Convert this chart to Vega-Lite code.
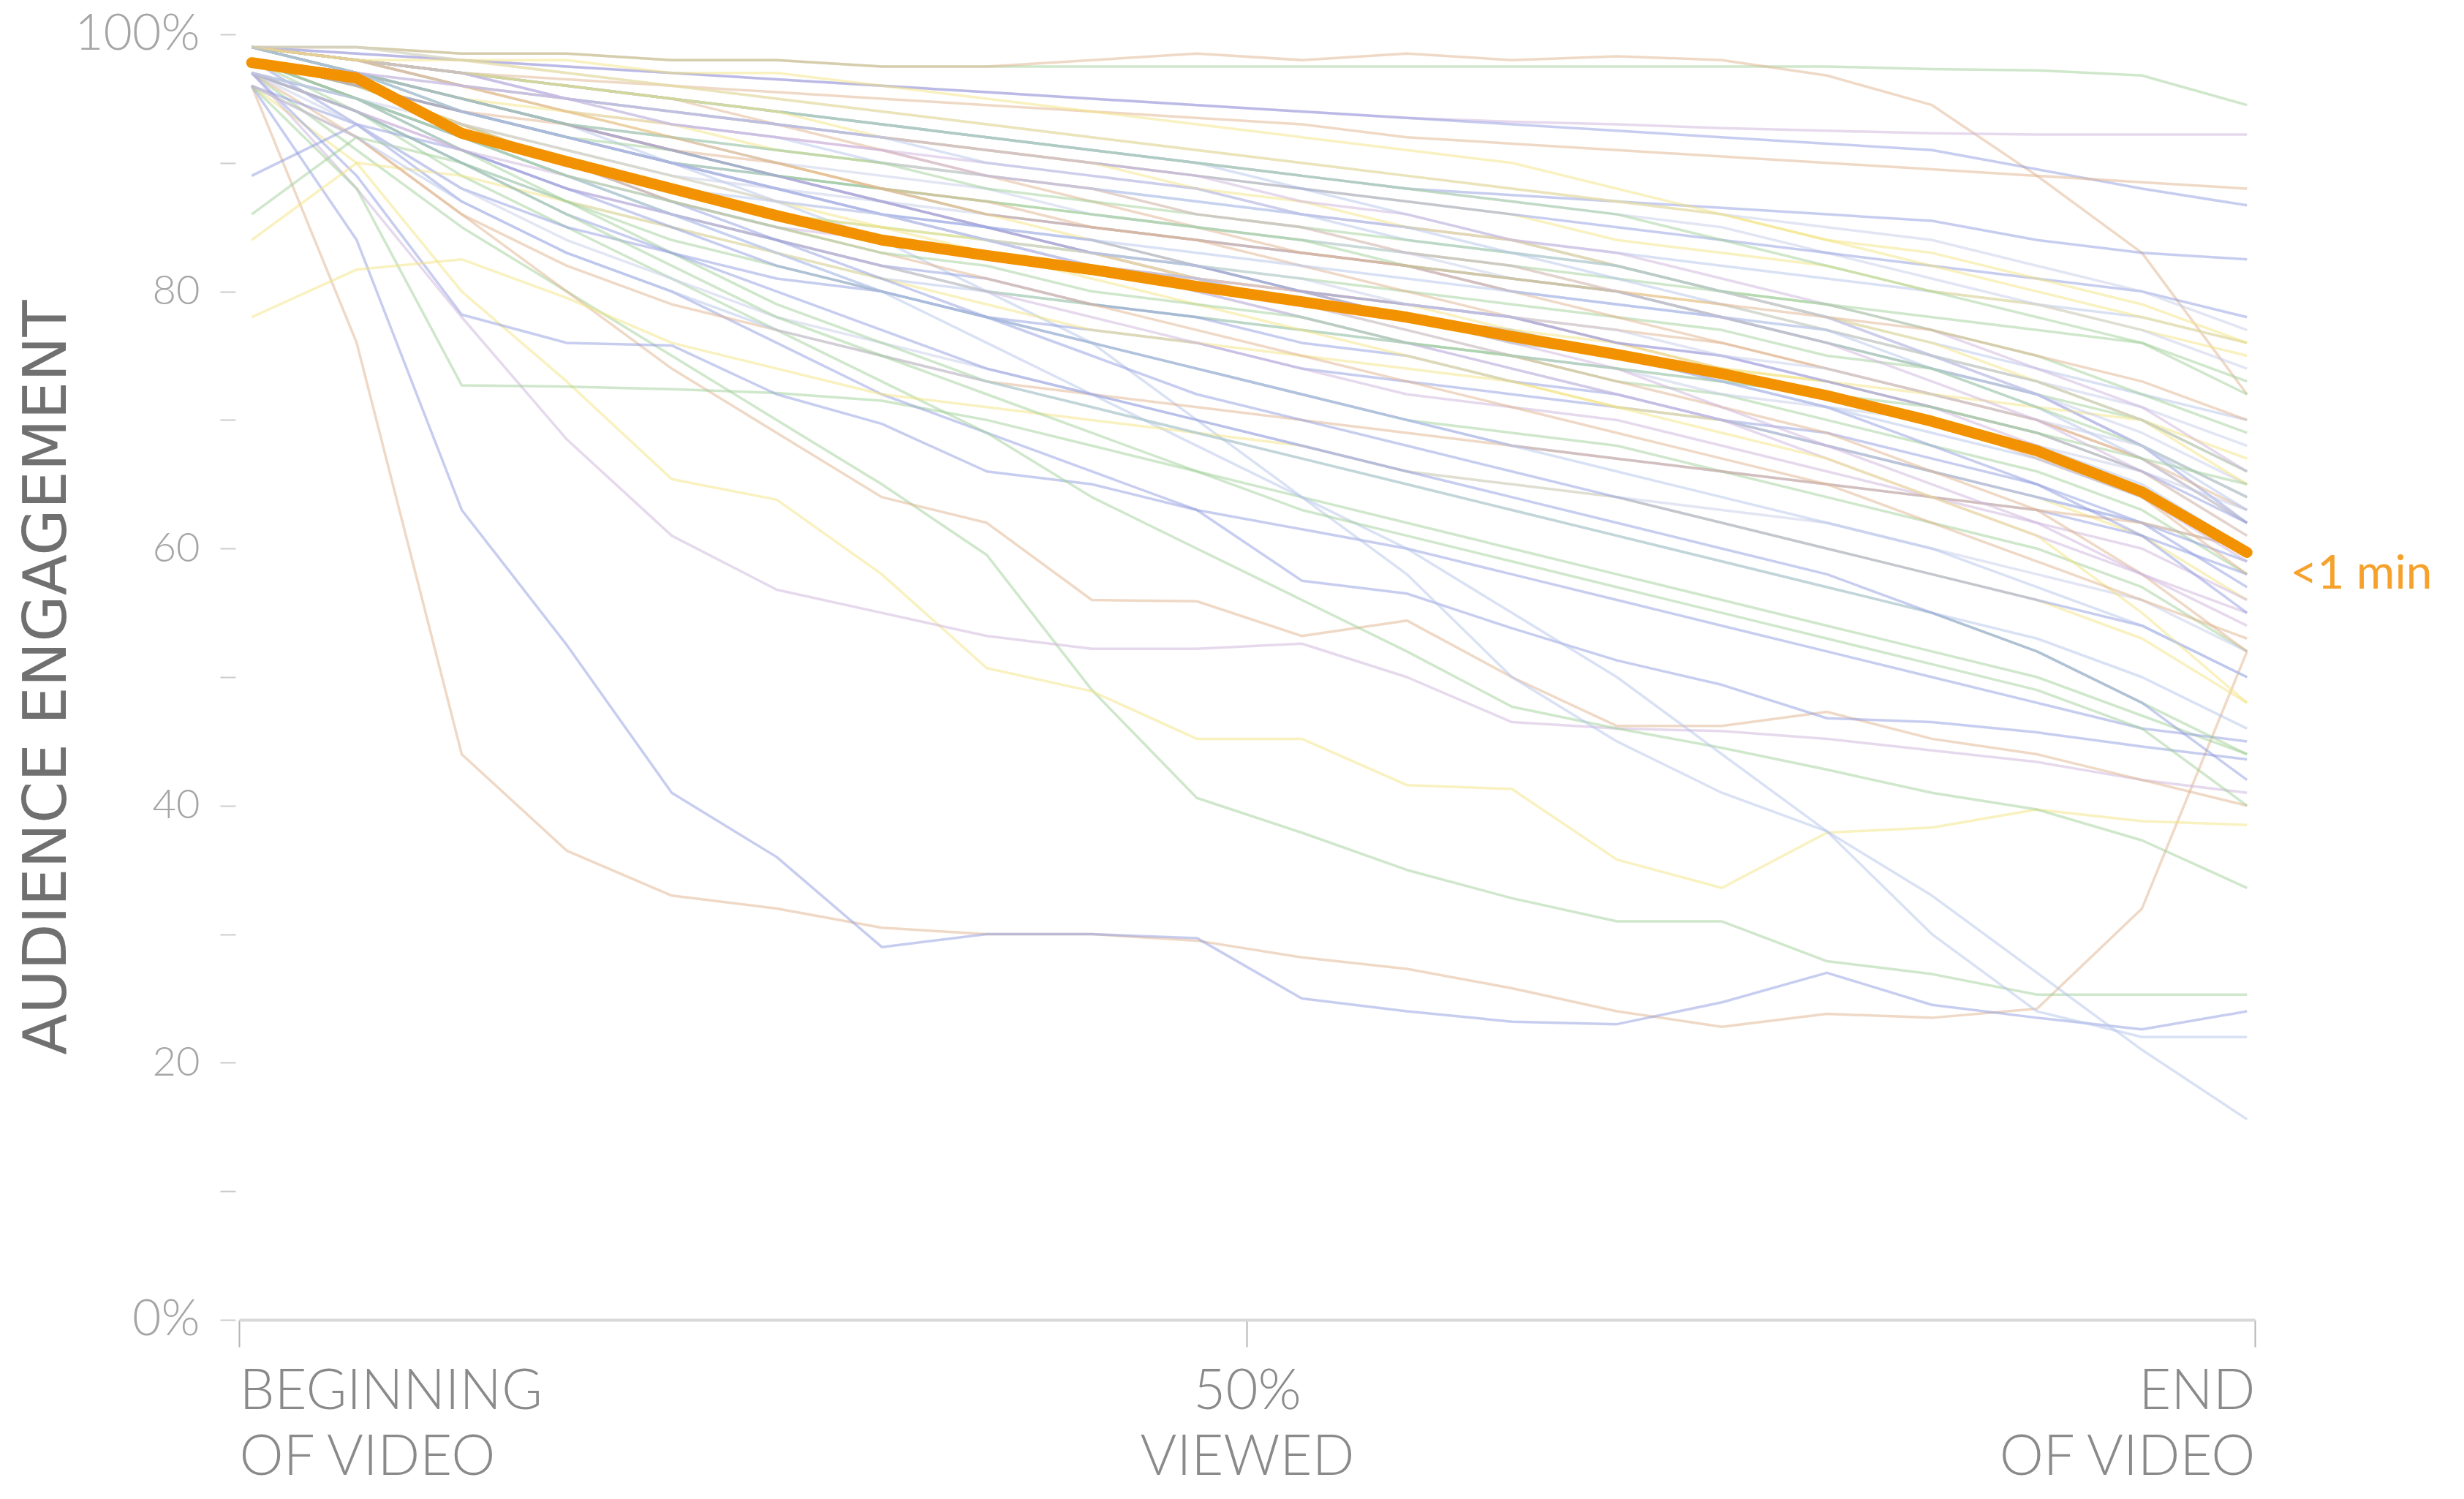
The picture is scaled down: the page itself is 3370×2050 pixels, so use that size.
{"$schema":"https://vega.github.io/schema/vega-lite/v6.json","width":2757,"height":1758,"autosize":"none","padding":{"left":327,"top":47,"right":286,"bottom":245},"background":"white","config":{"view":{"stroke":null}},
"datasets":{"colors":[{"s":"s1","c":"t"},{"s":"s2","c":"b"},{"s":"s3","c":"g"},{"s":"s4","c":"y"},{"s":"s5","c":"p"},{"s":"s6","c":"t"},{"s":"s7","c":"g"},{"s":"s8","c":"b"},{"s":"s9","c":"b"},{"s":"s10","c":"g"},{"s":"s11","c":"lb"},{"s":"s12","c":"lb"},{"s":"s13","c":"g"},{"s":"s14","c":"t"},{"s":"s15","c":"p"},{"s":"s16","c":"b"},{"s":"s17","c":"b"},{"s":"s18","c":"t"},{"s":"d1","c":"lb"},{"s":"d2","c":"y"},{"s":"d3","c":"v"},{"s":"d4","c":"g"},{"s":"d5","c":"b"},{"s":"d6","c":"t"},{"s":"d7","c":"p"},{"s":"d8","c":"lb"},{"s":"d9","c":"y"},{"s":"d10","c":"g"},{"s":"d11","c":"b"},{"s":"d12","c":"v"},{"s":"d13","c":"t"},{"s":"d14","c":"y"},{"s":"d15","c":"y"},{"s":"d16","c":"g"},{"s":"d17","c":"b"},{"s":"d18","c":"lb"},{"s":"d19","c":"p"},{"s":"d20","c":"b"},{"s":"d21","c":"g"},{"s":"d22","c":"t"},{"s":"d23","c":"lb"},{"s":"d24","c":"y"},{"s":"d25","c":"v"},{"s":"d26","c":"b"},{"s":"d27","c":"g"},{"s":"d28","c":"t"},{"s":"d29","c":"p"},{"s":"d30","c":"lb"},{"s":"d31","c":"y"},{"s":"d32","c":"b"},{"s":"d33","c":"g"},{"s":"d34","c":"lb"},{"s":"d35","c":"t"},{"s":"d36","c":"v"},{"s":"d37","c":"y"},{"s":"d38","c":"b"},{"s":"d39","c":"p"},{"s":"d40","c":"g"},{"s":"e1","c":"lb"},{"s":"e2","c":"v"},{"s":"e3","c":"y"},{"s":"e4","c":"g"},{"s":"e5","c":"p"},{"s":"e6","c":"t"},{"s":"e7","c":"b"},{"s":"e8","c":"lb"},{"s":"e9","c":"v"},{"s":"e10","c":"y"},{"s":"e11","c":"g"},{"s":"e12","c":"p"},{"s":"e13","c":"t"},{"s":"e14","c":"lb"},{"s":"e15","c":"b"},{"s":"e16","c":"v"},{"s":"e17","c":"y"},{"s":"e18","c":"g"},{"s":"e19","c":"lb"},{"s":"e20","c":"p"}],
"lines":[
{"s":"avg","t":0,"y":97.8},{"s":"avg","t":1,"y":96.6},{"s":"avg","t":2,"y":92.3},{"s":"avg","t":3,"y":90.1},{"s":"avg","t":4,"y":88.0},{"s":"avg","t":5,"y":85.9},{"s":"avg","t":6,"y":84.0},{"s":"avg","t":7,"y":82.8},{"s":"avg","t":8,"y":81.7},{"s":"avg","t":9,"y":80.4},{"s":"avg","t":10,"y":79.2},{"s":"avg","t":11,"y":78.0},{"s":"avg","t":12,"y":76.5},{"s":"avg","t":13,"y":75.1},{"s":"avg","t":14,"y":73.6},{"s":"avg","t":15,"y":71.9},{"s":"avg","t":16,"y":69.9},{"s":"avg","t":17,"y":67.6},{"s":"avg","t":18,"y":64.4},{"s":"avg","t":19,"y":59.7},
{"s":"s1","t":0,"y":96},{"s":"s1","t":1,"y":76},{"s":"s1","t":2,"y":44},{"s":"s1","t":3,"y":36.5},{"s":"s1","t":4,"y":33},{"s":"s1","t":5,"y":32},{"s":"s1","t":6,"y":30.5},{"s":"s1","t":7,"y":30},{"s":"s1","t":8,"y":30},{"s":"s1","t":9,"y":29.5},{"s":"s1","t":10,"y":28.2},{"s":"s1","t":11,"y":27.3},{"s":"s1","t":12,"y":25.8},{"s":"s1","t":13,"y":24},{"s":"s1","t":14,"y":22.8},{"s":"s1","t":15,"y":23.8},{"s":"s1","t":16,"y":23.5},{"s":"s1","t":17,"y":24.2},{"s":"s1","t":18,"y":32},{"s":"s1","t":19,"y":52},
{"s":"s2","t":0,"y":96},{"s":"s2","t":1,"y":84},{"s":"s2","t":2,"y":63},{"s":"s2","t":3,"y":52.5},{"s":"s2","t":4,"y":41},{"s":"s2","t":5,"y":36},{"s":"s2","t":6,"y":29},{"s":"s2","t":7,"y":30},{"s":"s2","t":8,"y":30},{"s":"s2","t":9,"y":29.7},{"s":"s2","t":10,"y":25},{"s":"s2","t":11,"y":24},{"s":"s2","t":12,"y":23.2},{"s":"s2","t":13,"y":23},{"s":"s2","t":14,"y":24.7},{"s":"s2","t":15,"y":27},{"s":"s2","t":16,"y":24.5},{"s":"s2","t":17,"y":23.5},{"s":"s2","t":18,"y":22.6},{"s":"s2","t":19,"y":24},
{"s":"s3","t":0,"y":97},{"s":"s3","t":1,"y":91},{"s":"s3","t":2,"y":85},{"s":"s3","t":3,"y":80},{"s":"s3","t":4,"y":75},{"s":"s3","t":5,"y":70},{"s":"s3","t":6,"y":65},{"s":"s3","t":7,"y":59.5},{"s":"s3","t":8,"y":49},{"s":"s3","t":9,"y":40.6},{"s":"s3","t":10,"y":37.9},{"s":"s3","t":11,"y":35},{"s":"s3","t":12,"y":32.8},{"s":"s3","t":13,"y":31},{"s":"s3","t":14,"y":31},{"s":"s3","t":15,"y":27.9},{"s":"s3","t":16,"y":26.9},{"s":"s3","t":17,"y":25.3},{"s":"s3","t":18,"y":25.3},{"s":"s3","t":19,"y":25.3},
{"s":"s4","t":0,"y":96},{"s":"s4","t":1,"y":90},{"s":"s4","t":2,"y":80},{"s":"s4","t":3,"y":73},{"s":"s4","t":4,"y":65.4},{"s":"s4","t":5,"y":63.8},{"s":"s4","t":6,"y":58},{"s":"s4","t":7,"y":50.7},{"s":"s4","t":8,"y":48.9},{"s":"s4","t":9,"y":45.2},{"s":"s4","t":10,"y":45.2},{"s":"s4","t":11,"y":41.6},{"s":"s4","t":12,"y":41.3},{"s":"s4","t":13,"y":35.8},{"s":"s4","t":14,"y":33.6},{"s":"s4","t":15,"y":37.9},{"s":"s4","t":16,"y":38.3},{"s":"s4","t":17,"y":39.7},{"s":"s4","t":18,"y":38.8},{"s":"s4","t":19,"y":38.5},
{"s":"s5","t":0,"y":97},{"s":"s5","t":1,"y":88},{"s":"s5","t":2,"y":78},{"s":"s5","t":3,"y":68.5},{"s":"s5","t":4,"y":61},{"s":"s5","t":5,"y":56.8},{"s":"s5","t":6,"y":55},{"s":"s5","t":7,"y":53.2},{"s":"s5","t":8,"y":52.2},{"s":"s5","t":9,"y":52.2},{"s":"s5","t":10,"y":52.6},{"s":"s5","t":11,"y":50},{"s":"s5","t":12,"y":46.5},{"s":"s5","t":13,"y":46},{"s":"s5","t":14,"y":45.8},{"s":"s5","t":15,"y":45.2},{"s":"s5","t":16,"y":44.3},{"s":"s5","t":17,"y":43.4},{"s":"s5","t":18,"y":42},{"s":"s5","t":19,"y":41},
{"s":"s6","t":0,"y":97},{"s":"s6","t":1,"y":92},{"s":"s6","t":2,"y":86},{"s":"s6","t":3,"y":80},{"s":"s6","t":4,"y":74},{"s":"s6","t":5,"y":69},{"s":"s6","t":6,"y":64},{"s":"s6","t":7,"y":62},{"s":"s6","t":8,"y":56},{"s":"s6","t":9,"y":55.9},{"s":"s6","t":10,"y":53.2},{"s":"s6","t":11,"y":54.4},{"s":"s6","t":12,"y":50},{"s":"s6","t":13,"y":46.2},{"s":"s6","t":14,"y":46.2},{"s":"s6","t":15,"y":47.3},{"s":"s6","t":16,"y":45.2},{"s":"s6","t":17,"y":44},{"s":"s6","t":18,"y":42},{"s":"s6","t":19,"y":40},
{"s":"s7","t":0,"y":96},{"s":"s7","t":1,"y":88},{"s":"s7","t":2,"y":72.7},{"s":"s7","t":3,"y":72.6},{"s":"s7","t":4,"y":72.4},{"s":"s7","t":5,"y":72.1},{"s":"s7","t":6,"y":71.5},{"s":"s7","t":7,"y":70},{"s":"s7","t":8,"y":68},{"s":"s7","t":9,"y":66},{"s":"s7","t":10,"y":64},{"s":"s7","t":11,"y":62},{"s":"s7","t":12,"y":60},{"s":"s7","t":13,"y":58},{"s":"s7","t":14,"y":56},{"s":"s7","t":15,"y":54},{"s":"s7","t":16,"y":52},{"s":"s7","t":17,"y":50},{"s":"s7","t":18,"y":47},{"s":"s7","t":19,"y":44},
{"s":"s8","t":0,"y":97},{"s":"s8","t":1,"y":89},{"s":"s8","t":2,"y":78.2},{"s":"s8","t":3,"y":76},{"s":"s8","t":4,"y":75.8},{"s":"s8","t":5,"y":72},{"s":"s8","t":6,"y":69.7},{"s":"s8","t":7,"y":66},{"s":"s8","t":8,"y":65},{"s":"s8","t":9,"y":63},{"s":"s8","t":10,"y":61.5},{"s":"s8","t":11,"y":60},{"s":"s8","t":12,"y":58},{"s":"s8","t":13,"y":56},{"s":"s8","t":14,"y":54},{"s":"s8","t":15,"y":52},{"s":"s8","t":16,"y":50},{"s":"s8","t":17,"y":48},{"s":"s8","t":18,"y":46},{"s":"s8","t":19,"y":45},
{"s":"s9","t":0,"y":98},{"s":"s9","t":1,"y":93},{"s":"s9","t":2,"y":87},{"s":"s9","t":3,"y":83},{"s":"s9","t":4,"y":80},{"s":"s9","t":5,"y":76},{"s":"s9","t":6,"y":72},{"s":"s9","t":7,"y":69},{"s":"s9","t":8,"y":66},{"s":"s9","t":9,"y":63},{"s":"s9","t":10,"y":57.5},{"s":"s9","t":11,"y":56.5},{"s":"s9","t":12,"y":53.8},{"s":"s9","t":13,"y":51.3},{"s":"s9","t":14,"y":49.4},{"s":"s9","t":15,"y":46.8},{"s":"s9","t":16,"y":46.5},{"s":"s9","t":17,"y":45.7},{"s":"s9","t":18,"y":44.6},{"s":"s9","t":19,"y":43.6},
{"s":"s10","t":0,"y":98},{"s":"s10","t":1,"y":94},{"s":"s10","t":2,"y":89},{"s":"s10","t":3,"y":85},{"s":"s10","t":4,"y":81},{"s":"s10","t":5,"y":77},{"s":"s10","t":6,"y":73},{"s":"s10","t":7,"y":69},{"s":"s10","t":8,"y":64},{"s":"s10","t":9,"y":60},{"s":"s10","t":10,"y":56},{"s":"s10","t":11,"y":52},{"s":"s10","t":12,"y":47.7},{"s":"s10","t":13,"y":46},{"s":"s10","t":14,"y":44.5},{"s":"s10","t":15,"y":42.8},{"s":"s10","t":16,"y":41},{"s":"s10","t":17,"y":39.7},{"s":"s10","t":18,"y":37.3},{"s":"s10","t":19,"y":33.6},
{"s":"s11","t":0,"y":99},{"s":"s11","t":1,"y":97},{"s":"s11","t":2,"y":95},{"s":"s11","t":3,"y":93},{"s":"s11","t":4,"y":90},{"s":"s11","t":5,"y":87},{"s":"s11","t":6,"y":84},{"s":"s11","t":7,"y":80},{"s":"s11","t":8,"y":76},{"s":"s11","t":9,"y":70},{"s":"s11","t":10,"y":64},{"s":"s11","t":11,"y":58},{"s":"s11","t":12,"y":50},{"s":"s11","t":13,"y":45},{"s":"s11","t":14,"y":41},{"s":"s11","t":15,"y":38},{"s":"s11","t":16,"y":33},{"s":"s11","t":17,"y":27},{"s":"s11","t":18,"y":21},{"s":"s11","t":19,"y":15.6},
{"s":"s12","t":0,"y":98},{"s":"s12","t":1,"y":95},{"s":"s12","t":2,"y":92},{"s":"s12","t":3,"y":89},{"s":"s12","t":4,"y":86},{"s":"s12","t":5,"y":83},{"s":"s12","t":6,"y":80},{"s":"s12","t":7,"y":76},{"s":"s12","t":8,"y":72},{"s":"s12","t":9,"y":68},{"s":"s12","t":10,"y":64},{"s":"s12","t":11,"y":60},{"s":"s12","t":12,"y":55},{"s":"s12","t":13,"y":50},{"s":"s12","t":14,"y":44},{"s":"s12","t":15,"y":38},{"s":"s12","t":16,"y":30},{"s":"s12","t":17,"y":24},{"s":"s12","t":18,"y":22},{"s":"s12","t":19,"y":22},
{"s":"s13","t":0,"y":99},{"s":"s13","t":1,"y":99},{"s":"s13","t":2,"y":98.5},{"s":"s13","t":3,"y":98.5},{"s":"s13","t":4,"y":98},{"s":"s13","t":5,"y":98},{"s":"s13","t":6,"y":97.5},{"s":"s13","t":7,"y":97.5},{"s":"s13","t":8,"y":97.5},{"s":"s13","t":9,"y":97.5},{"s":"s13","t":10,"y":97.5},{"s":"s13","t":11,"y":97.5},{"s":"s13","t":12,"y":97.5},{"s":"s13","t":13,"y":97.5},{"s":"s13","t":14,"y":97.5},{"s":"s13","t":15,"y":97.5},{"s":"s13","t":16,"y":97.3},{"s":"s13","t":17,"y":97.2},{"s":"s13","t":18,"y":96.8},{"s":"s13","t":19,"y":94.5},
{"s":"s14","t":0,"y":99},{"s":"s14","t":1,"y":99},{"s":"s14","t":2,"y":98.5},{"s":"s14","t":3,"y":98.5},{"s":"s14","t":4,"y":98},{"s":"s14","t":5,"y":98},{"s":"s14","t":6,"y":97.5},{"s":"s14","t":7,"y":97.5},{"s":"s14","t":8,"y":98},{"s":"s14","t":9,"y":98.5},{"s":"s14","t":10,"y":98},{"s":"s14","t":11,"y":98.5},{"s":"s14","t":12,"y":98},{"s":"s14","t":13,"y":98.3},{"s":"s14","t":14,"y":98},{"s":"s14","t":15,"y":96.8},{"s":"s14","t":16,"y":94.5},{"s":"s14","t":17,"y":89},{"s":"s14","t":18,"y":83},{"s":"s14","t":19,"y":72},
{"s":"s15","t":0,"y":99},{"s":"s15","t":1,"y":98.5},{"s":"s15","t":2,"y":98},{"s":"s15","t":3,"y":97.5},{"s":"s15","t":4,"y":97},{"s":"s15","t":5,"y":96.5},{"s":"s15","t":6,"y":96},{"s":"s15","t":7,"y":95.5},{"s":"s15","t":8,"y":95},{"s":"s15","t":9,"y":94.5},{"s":"s15","t":10,"y":94},{"s":"s15","t":11,"y":93.5},{"s":"s15","t":12,"y":93.2},{"s":"s15","t":13,"y":93},{"s":"s15","t":14,"y":92.7},{"s":"s15","t":15,"y":92.5},{"s":"s15","t":16,"y":92.3},{"s":"s15","t":17,"y":92.2},{"s":"s15","t":18,"y":92.2},{"s":"s15","t":19,"y":92.2},
{"s":"s16","t":0,"y":99},{"s":"s16","t":1,"y":98.5},{"s":"s16","t":2,"y":98},{"s":"s16","t":3,"y":97.5},{"s":"s16","t":4,"y":97},{"s":"s16","t":5,"y":96.5},{"s":"s16","t":6,"y":96},{"s":"s16","t":7,"y":95.5},{"s":"s16","t":8,"y":95},{"s":"s16","t":9,"y":94.5},{"s":"s16","t":10,"y":94},{"s":"s16","t":11,"y":93.5},{"s":"s16","t":12,"y":93},{"s":"s16","t":13,"y":92.5},{"s":"s16","t":14,"y":92},{"s":"s16","t":15,"y":91.5},{"s":"s16","t":16,"y":91},{"s":"s16","t":17,"y":89.5},{"s":"s16","t":18,"y":88},{"s":"s16","t":19,"y":86.7},
{"s":"s17","t":0,"y":99},{"s":"s17","t":1,"y":98},{"s":"s17","t":2,"y":97},{"s":"s17","t":3,"y":96},{"s":"s17","t":4,"y":95},{"s":"s17","t":5,"y":94},{"s":"s17","t":6,"y":93},{"s":"s17","t":7,"y":92},{"s":"s17","t":8,"y":91},{"s":"s17","t":9,"y":90},{"s":"s17","t":10,"y":89},{"s":"s17","t":11,"y":88},{"s":"s17","t":12,"y":87.5},{"s":"s17","t":13,"y":87},{"s":"s17","t":14,"y":86.5},{"s":"s17","t":15,"y":86},{"s":"s17","t":16,"y":85.5},{"s":"s17","t":17,"y":84},{"s":"s17","t":18,"y":83},{"s":"s17","t":19,"y":82.5},
{"s":"s18","t":0,"y":99},{"s":"s18","t":1,"y":98},{"s":"s18","t":2,"y":97},{"s":"s18","t":3,"y":96.5},{"s":"s18","t":4,"y":96},{"s":"s18","t":5,"y":95.5},{"s":"s18","t":6,"y":95},{"s":"s18","t":7,"y":94.5},{"s":"s18","t":8,"y":94},{"s":"s18","t":9,"y":93.5},{"s":"s18","t":10,"y":93},{"s":"s18","t":11,"y":92},{"s":"s18","t":12,"y":91.5},{"s":"s18","t":13,"y":91},{"s":"s18","t":14,"y":90.5},{"s":"s18","t":15,"y":90},{"s":"s18","t":16,"y":89.5},{"s":"s18","t":17,"y":89},{"s":"s18","t":18,"y":88.5},{"s":"s18","t":19,"y":88},
{"s":"d1","t":0,"y":99},{"s":"d1","t":1,"y":97},{"s":"d1","t":2,"y":95},{"s":"d1","t":3,"y":93},{"s":"d1","t":4,"y":92},{"s":"d1","t":5,"y":91},{"s":"d1","t":6,"y":90},{"s":"d1","t":7,"y":89},{"s":"d1","t":8,"y":88},{"s":"d1","t":9,"y":87},{"s":"d1","t":10,"y":86},{"s":"d1","t":11,"y":85},{"s":"d1","t":12,"y":84},{"s":"d1","t":13,"y":83},{"s":"d1","t":14,"y":82},{"s":"d1","t":15,"y":81},{"s":"d1","t":16,"y":80},{"s":"d1","t":17,"y":79},{"s":"d1","t":18,"y":78},{"s":"d1","t":19,"y":76},
{"s":"d2","t":0,"y":99},{"s":"d2","t":1,"y":98},{"s":"d2","t":2,"y":96},{"s":"d2","t":3,"y":95},{"s":"d2","t":4,"y":94},{"s":"d2","t":5,"y":93},{"s":"d2","t":6,"y":92},{"s":"d2","t":7,"y":91},{"s":"d2","t":8,"y":90},{"s":"d2","t":9,"y":89},{"s":"d2","t":10,"y":88},{"s":"d2","t":11,"y":87},{"s":"d2","t":12,"y":86},{"s":"d2","t":13,"y":84},{"s":"d2","t":14,"y":83},{"s":"d2","t":15,"y":82},{"s":"d2","t":16,"y":80},{"s":"d2","t":17,"y":79},{"s":"d2","t":18,"y":77},{"s":"d2","t":19,"y":75},
{"s":"d3","t":0,"y":98},{"s":"d3","t":1,"y":96},{"s":"d3","t":2,"y":93},{"s":"d3","t":3,"y":91},{"s":"d3","t":4,"y":89},{"s":"d3","t":5,"y":88},{"s":"d3","t":6,"y":87},{"s":"d3","t":7,"y":86},{"s":"d3","t":8,"y":85},{"s":"d3","t":9,"y":84},{"s":"d3","t":10,"y":83},{"s":"d3","t":11,"y":82},{"s":"d3","t":12,"y":81},{"s":"d3","t":13,"y":80},{"s":"d3","t":14,"y":78},{"s":"d3","t":15,"y":77},{"s":"d3","t":16,"y":75},{"s":"d3","t":17,"y":73},{"s":"d3","t":18,"y":71},{"s":"d3","t":19,"y":68},
{"s":"d4","t":0,"y":98},{"s":"d4","t":1,"y":96},{"s":"d4","t":2,"y":93},{"s":"d4","t":3,"y":90},{"s":"d4","t":4,"y":88},{"s":"d4","t":5,"y":86},{"s":"d4","t":6,"y":85},{"s":"d4","t":7,"y":84},{"s":"d4","t":8,"y":83},{"s":"d4","t":9,"y":82},{"s":"d4","t":10,"y":81},{"s":"d4","t":11,"y":80},{"s":"d4","t":12,"y":79},{"s":"d4","t":13,"y":78},{"s":"d4","t":14,"y":77},{"s":"d4","t":15,"y":75},{"s":"d4","t":16,"y":74},{"s":"d4","t":17,"y":72},{"s":"d4","t":18,"y":70},{"s":"d4","t":19,"y":66},
{"s":"d5","t":0,"y":99},{"s":"d5","t":1,"y":97},{"s":"d5","t":2,"y":94},{"s":"d5","t":3,"y":92},{"s":"d5","t":4,"y":90},{"s":"d5","t":5,"y":89},{"s":"d5","t":6,"y":88},{"s":"d5","t":7,"y":86},{"s":"d5","t":8,"y":85},{"s":"d5","t":9,"y":84},{"s":"d5","t":10,"y":83},{"s":"d5","t":11,"y":82},{"s":"d5","t":12,"y":80},{"s":"d5","t":13,"y":79},{"s":"d5","t":14,"y":78},{"s":"d5","t":15,"y":76},{"s":"d5","t":16,"y":74},{"s":"d5","t":17,"y":72},{"s":"d5","t":18,"y":68},{"s":"d5","t":19,"y":62},
{"s":"d6","t":0,"y":98},{"s":"d6","t":1,"y":95},{"s":"d6","t":2,"y":92},{"s":"d6","t":3,"y":90},{"s":"d6","t":4,"y":88},{"s":"d6","t":5,"y":86},{"s":"d6","t":6,"y":84},{"s":"d6","t":7,"y":83},{"s":"d6","t":8,"y":82},{"s":"d6","t":9,"y":81},{"s":"d6","t":10,"y":80},{"s":"d6","t":11,"y":79},{"s":"d6","t":12,"y":78},{"s":"d6","t":13,"y":77},{"s":"d6","t":14,"y":76},{"s":"d6","t":15,"y":74},{"s":"d6","t":16,"y":72},{"s":"d6","t":17,"y":70},{"s":"d6","t":18,"y":67},{"s":"d6","t":19,"y":63},
{"s":"d7","t":0,"y":99},{"s":"d7","t":1,"y":98},{"s":"d7","t":2,"y":96},{"s":"d7","t":3,"y":94},{"s":"d7","t":4,"y":93},{"s":"d7","t":5,"y":92},{"s":"d7","t":6,"y":91},{"s":"d7","t":7,"y":90},{"s":"d7","t":8,"y":89},{"s":"d7","t":9,"y":88},{"s":"d7","t":10,"y":86},{"s":"d7","t":11,"y":85},{"s":"d7","t":12,"y":84},{"s":"d7","t":13,"y":82},{"s":"d7","t":14,"y":80},{"s":"d7","t":15,"y":78},{"s":"d7","t":16,"y":75},{"s":"d7","t":17,"y":72},{"s":"d7","t":18,"y":68},{"s":"d7","t":19,"y":64},
{"s":"d8","t":0,"y":97},{"s":"d8","t":1,"y":94},{"s":"d8","t":2,"y":90},{"s":"d8","t":3,"y":87},{"s":"d8","t":4,"y":85},{"s":"d8","t":5,"y":83},{"s":"d8","t":6,"y":81},{"s":"d8","t":7,"y":80},{"s":"d8","t":8,"y":79},{"s":"d8","t":9,"y":78},{"s":"d8","t":10,"y":77},{"s":"d8","t":11,"y":76},{"s":"d8","t":12,"y":75},{"s":"d8","t":13,"y":74},{"s":"d8","t":14,"y":73},{"s":"d8","t":15,"y":72},{"s":"d8","t":16,"y":70},{"s":"d8","t":17,"y":68},{"s":"d8","t":18,"y":65},{"s":"d8","t":19,"y":60},
{"s":"d9","t":0,"y":98},{"s":"d9","t":1,"y":97},{"s":"d9","t":2,"y":95},{"s":"d9","t":3,"y":94},{"s":"d9","t":4,"y":93},{"s":"d9","t":5,"y":91},{"s":"d9","t":6,"y":90},{"s":"d9","t":7,"y":89},{"s":"d9","t":8,"y":88},{"s":"d9","t":9,"y":86},{"s":"d9","t":10,"y":85},{"s":"d9","t":11,"y":83},{"s":"d9","t":12,"y":82},{"s":"d9","t":13,"y":80},{"s":"d9","t":14,"y":79},{"s":"d9","t":15,"y":77},{"s":"d9","t":16,"y":75},{"s":"d9","t":17,"y":73},{"s":"d9","t":18,"y":70},{"s":"d9","t":19,"y":66},
{"s":"d10","t":0,"y":97},{"s":"d10","t":1,"y":95},{"s":"d10","t":2,"y":92},{"s":"d10","t":3,"y":89},{"s":"d10","t":4,"y":86},{"s":"d10","t":5,"y":84},{"s":"d10","t":6,"y":82},{"s":"d10","t":7,"y":80},{"s":"d10","t":8,"y":79},{"s":"d10","t":9,"y":78},{"s":"d10","t":10,"y":77},{"s":"d10","t":11,"y":76},{"s":"d10","t":12,"y":75},{"s":"d10","t":13,"y":73},{"s":"d10","t":14,"y":72},{"s":"d10","t":15,"y":70},{"s":"d10","t":16,"y":68},{"s":"d10","t":17,"y":66},{"s":"d10","t":18,"y":63},{"s":"d10","t":19,"y":58},
{"s":"d11","t":0,"y":96},{"s":"d11","t":1,"y":93},{"s":"d11","t":2,"y":88},{"s":"d11","t":3,"y":85},{"s":"d11","t":4,"y":83},{"s":"d11","t":5,"y":81},{"s":"d11","t":6,"y":80},{"s":"d11","t":7,"y":78},{"s":"d11","t":8,"y":77},{"s":"d11","t":9,"y":76},{"s":"d11","t":10,"y":74},{"s":"d11","t":11,"y":73},{"s":"d11","t":12,"y":72},{"s":"d11","t":13,"y":71},{"s":"d11","t":14,"y":70},{"s":"d11","t":15,"y":69},{"s":"d11","t":16,"y":67},{"s":"d11","t":17,"y":65},{"s":"d11","t":18,"y":62},{"s":"d11","t":19,"y":57},
{"s":"d12","t":0,"y":99},{"s":"d12","t":1,"y":98},{"s":"d12","t":2,"y":97},{"s":"d12","t":3,"y":96},{"s":"d12","t":4,"y":95},{"s":"d12","t":5,"y":94},{"s":"d12","t":6,"y":93},{"s":"d12","t":7,"y":92},{"s":"d12","t":8,"y":91},{"s":"d12","t":9,"y":90},{"s":"d12","t":10,"y":89},{"s":"d12","t":11,"y":88},{"s":"d12","t":12,"y":87},{"s":"d12","t":13,"y":86},{"s":"d12","t":14,"y":85},{"s":"d12","t":15,"y":83},{"s":"d12","t":16,"y":81},{"s":"d12","t":17,"y":79},{"s":"d12","t":18,"y":77},{"s":"d12","t":19,"y":74},
{"s":"d13","t":0,"y":99},{"s":"d13","t":1,"y":98},{"s":"d13","t":2,"y":97},{"s":"d13","t":3,"y":96},{"s":"d13","t":4,"y":95},{"s":"d13","t":5,"y":93},{"s":"d13","t":6,"y":91},{"s":"d13","t":7,"y":89},{"s":"d13","t":8,"y":87},{"s":"d13","t":9,"y":85},{"s":"d13","t":10,"y":83},{"s":"d13","t":11,"y":82},{"s":"d13","t":12,"y":80},{"s":"d13","t":13,"y":78},{"s":"d13","t":14,"y":76},{"s":"d13","t":15,"y":74},{"s":"d13","t":16,"y":72},{"s":"d13","t":17,"y":70},{"s":"d13","t":18,"y":67},{"s":"d13","t":19,"y":62},
{"s":"d14","t":0,"y":84},{"s":"d14","t":1,"y":90},{"s":"d14","t":2,"y":89},{"s":"d14","t":3,"y":87},{"s":"d14","t":4,"y":85},{"s":"d14","t":5,"y":83},{"s":"d14","t":6,"y":81},{"s":"d14","t":7,"y":79},{"s":"d14","t":8,"y":77},{"s":"d14","t":9,"y":76},{"s":"d14","t":10,"y":75},{"s":"d14","t":11,"y":74},{"s":"d14","t":12,"y":73},{"s":"d14","t":13,"y":71},{"s":"d14","t":14,"y":70},{"s":"d14","t":15,"y":68},{"s":"d14","t":16,"y":66},{"s":"d14","t":17,"y":64},{"s":"d14","t":18,"y":61},{"s":"d14","t":19,"y":56},
{"s":"d15","t":0,"y":78},{"s":"d15","t":1,"y":81.7},{"s":"d15","t":2,"y":82.5},{"s":"d15","t":3,"y":79.5},{"s":"d15","t":4,"y":76},{"s":"d15","t":5,"y":74},{"s":"d15","t":6,"y":72},{"s":"d15","t":7,"y":71},{"s":"d15","t":8,"y":70},{"s":"d15","t":9,"y":69},{"s":"d15","t":10,"y":68},{"s":"d15","t":11,"y":66},{"s":"d15","t":12,"y":65},{"s":"d15","t":13,"y":64},{"s":"d15","t":14,"y":62},{"s":"d15","t":15,"y":60},{"s":"d15","t":16,"y":58},{"s":"d15","t":17,"y":56},{"s":"d15","t":18,"y":53},{"s":"d15","t":19,"y":48},
{"s":"d16","t":0,"y":86},{"s":"d16","t":1,"y":92},{"s":"d16","t":2,"y":90},{"s":"d16","t":3,"y":87},{"s":"d16","t":4,"y":84},{"s":"d16","t":5,"y":82},{"s":"d16","t":6,"y":80},{"s":"d16","t":7,"y":78},{"s":"d16","t":8,"y":76},{"s":"d16","t":9,"y":74},{"s":"d16","t":10,"y":72},{"s":"d16","t":11,"y":70},{"s":"d16","t":12,"y":69},{"s":"d16","t":13,"y":68},{"s":"d16","t":14,"y":66},{"s":"d16","t":15,"y":64},{"s":"d16","t":16,"y":62},{"s":"d16","t":17,"y":60},{"s":"d16","t":18,"y":57},{"s":"d16","t":19,"y":52},
{"s":"d17","t":0,"y":89},{"s":"d17","t":1,"y":93},{"s":"d17","t":2,"y":91},{"s":"d17","t":3,"y":88},{"s":"d17","t":4,"y":86},{"s":"d17","t":5,"y":84},{"s":"d17","t":6,"y":82},{"s":"d17","t":7,"y":81},{"s":"d17","t":8,"y":79},{"s":"d17","t":9,"y":78},{"s":"d17","t":10,"y":76},{"s":"d17","t":11,"y":75},{"s":"d17","t":12,"y":73},{"s":"d17","t":13,"y":72},{"s":"d17","t":14,"y":70},{"s":"d17","t":15,"y":68},{"s":"d17","t":16,"y":66},{"s":"d17","t":17,"y":64},{"s":"d17","t":18,"y":62},{"s":"d17","t":19,"y":59},
{"s":"d18","t":0,"y":98},{"s":"d18","t":1,"y":96},{"s":"d18","t":2,"y":94},{"s":"d18","t":3,"y":92},{"s":"d18","t":4,"y":90},{"s":"d18","t":5,"y":88},{"s":"d18","t":6,"y":86},{"s":"d18","t":7,"y":84},{"s":"d18","t":8,"y":82},{"s":"d18","t":9,"y":80},{"s":"d18","t":10,"y":78},{"s":"d18","t":11,"y":76},{"s":"d18","t":12,"y":74},{"s":"d18","t":13,"y":72},{"s":"d18","t":14,"y":70},{"s":"d18","t":15,"y":68},{"s":"d18","t":16,"y":66},{"s":"d18","t":17,"y":64},{"s":"d18","t":18,"y":62},{"s":"d18","t":19,"y":60},
{"s":"d19","t":0,"y":97},{"s":"d19","t":1,"y":94},{"s":"d19","t":2,"y":91},{"s":"d19","t":3,"y":88},{"s":"d19","t":4,"y":86},{"s":"d19","t":5,"y":84},{"s":"d19","t":6,"y":82},{"s":"d19","t":7,"y":80},{"s":"d19","t":8,"y":78},{"s":"d19","t":9,"y":76},{"s":"d19","t":10,"y":74},{"s":"d19","t":11,"y":72},{"s":"d19","t":12,"y":71},{"s":"d19","t":13,"y":70},{"s":"d19","t":14,"y":68},{"s":"d19","t":15,"y":66},{"s":"d19","t":16,"y":64},{"s":"d19","t":17,"y":62},{"s":"d19","t":18,"y":60},{"s":"d19","t":19,"y":56},
{"s":"d20","t":0,"y":98},{"s":"d20","t":1,"y":95},{"s":"d20","t":2,"y":91},{"s":"d20","t":3,"y":88},{"s":"d20","t":4,"y":85},{"s":"d20","t":5,"y":82},{"s":"d20","t":6,"y":80},{"s":"d20","t":7,"y":78},{"s":"d20","t":8,"y":76},{"s":"d20","t":9,"y":74},{"s":"d20","t":10,"y":72},{"s":"d20","t":11,"y":70},{"s":"d20","t":12,"y":68},{"s":"d20","t":13,"y":67},{"s":"d20","t":14,"y":66},{"s":"d20","t":15,"y":65},{"s":"d20","t":16,"y":64},{"s":"d20","t":17,"y":63},{"s":"d20","t":18,"y":61},{"s":"d20","t":19,"y":58},
{"s":"d21","t":0,"y":99},{"s":"d21","t":1,"y":97},{"s":"d21","t":2,"y":94},{"s":"d21","t":3,"y":92},{"s":"d21","t":4,"y":90},{"s":"d21","t":5,"y":89},{"s":"d21","t":6,"y":88},{"s":"d21","t":7,"y":87},{"s":"d21","t":8,"y":86},{"s":"d21","t":9,"y":85},{"s":"d21","t":10,"y":84},{"s":"d21","t":11,"y":83},{"s":"d21","t":12,"y":82},{"s":"d21","t":13,"y":81},{"s":"d21","t":14,"y":80},{"s":"d21","t":15,"y":79},{"s":"d21","t":16,"y":78},{"s":"d21","t":17,"y":77},{"s":"d21","t":18,"y":76},{"s":"d21","t":19,"y":73},
{"s":"d22","t":0,"y":96},{"s":"d22","t":1,"y":92},{"s":"d22","t":2,"y":86},{"s":"d22","t":3,"y":82},{"s":"d22","t":4,"y":79},{"s":"d22","t":5,"y":77},{"s":"d22","t":6,"y":75},{"s":"d22","t":7,"y":73},{"s":"d22","t":8,"y":72},{"s":"d22","t":9,"y":71},{"s":"d22","t":10,"y":70},{"s":"d22","t":11,"y":69},{"s":"d22","t":12,"y":68},{"s":"d22","t":13,"y":67},{"s":"d22","t":14,"y":66},{"s":"d22","t":15,"y":65},{"s":"d22","t":16,"y":64},{"s":"d22","t":17,"y":63},{"s":"d22","t":18,"y":62},{"s":"d22","t":19,"y":60},
{"s":"d23","t":0,"y":99},{"s":"d23","t":1,"y":98},{"s":"d23","t":2,"y":97},{"s":"d23","t":3,"y":96},{"s":"d23","t":4,"y":95},{"s":"d23","t":5,"y":94},{"s":"d23","t":6,"y":93},{"s":"d23","t":7,"y":92},{"s":"d23","t":8,"y":91},{"s":"d23","t":9,"y":90},{"s":"d23","t":10,"y":88},{"s":"d23","t":11,"y":86},{"s":"d23","t":12,"y":84},{"s":"d23","t":13,"y":82},{"s":"d23","t":14,"y":80},{"s":"d23","t":15,"y":78},{"s":"d23","t":16,"y":76},{"s":"d23","t":17,"y":74},{"s":"d23","t":18,"y":72},{"s":"d23","t":19,"y":70},
{"s":"d24","t":0,"y":99},{"s":"d24","t":1,"y":98},{"s":"d24","t":2,"y":96},{"s":"d24","t":3,"y":94},{"s":"d24","t":4,"y":92},{"s":"d24","t":5,"y":90},{"s":"d24","t":6,"y":88},{"s":"d24","t":7,"y":86},{"s":"d24","t":8,"y":84},{"s":"d24","t":9,"y":82},{"s":"d24","t":10,"y":80},{"s":"d24","t":11,"y":78},{"s":"d24","t":12,"y":76},{"s":"d24","t":13,"y":75},{"s":"d24","t":14,"y":74},{"s":"d24","t":15,"y":73},{"s":"d24","t":16,"y":72},{"s":"d24","t":17,"y":71},{"s":"d24","t":18,"y":70},{"s":"d24","t":19,"y":67},
{"s":"d25","t":0,"y":97},{"s":"d25","t":1,"y":93},{"s":"d25","t":2,"y":88},{"s":"d25","t":3,"y":84},{"s":"d25","t":4,"y":81},{"s":"d25","t":5,"y":78},{"s":"d25","t":6,"y":76},{"s":"d25","t":7,"y":74},{"s":"d25","t":8,"y":72},{"s":"d25","t":9,"y":70},{"s":"d25","t":10,"y":68},{"s":"d25","t":11,"y":66},{"s":"d25","t":12,"y":65},{"s":"d25","t":13,"y":64},{"s":"d25","t":14,"y":63},{"s":"d25","t":15,"y":62},{"s":"d25","t":16,"y":60},{"s":"d25","t":17,"y":58},{"s":"d25","t":18,"y":56},{"s":"d25","t":19,"y":52},
{"s":"d26","t":0,"y":98},{"s":"d26","t":1,"y":96},{"s":"d26","t":2,"y":93},{"s":"d26","t":3,"y":90},{"s":"d26","t":4,"y":87},{"s":"d26","t":5,"y":84},{"s":"d26","t":6,"y":81},{"s":"d26","t":7,"y":78},{"s":"d26","t":8,"y":75},{"s":"d26","t":9,"y":72},{"s":"d26","t":10,"y":70},{"s":"d26","t":11,"y":68},{"s":"d26","t":12,"y":66},{"s":"d26","t":13,"y":64},{"s":"d26","t":14,"y":62},{"s":"d26","t":15,"y":60},{"s":"d26","t":16,"y":58},{"s":"d26","t":17,"y":56},{"s":"d26","t":18,"y":54},{"s":"d26","t":19,"y":50},
{"s":"d27","t":0,"y":98},{"s":"d27","t":1,"y":95},{"s":"d27","t":2,"y":91},{"s":"d27","t":3,"y":87},{"s":"d27","t":4,"y":83},{"s":"d27","t":5,"y":79},{"s":"d27","t":6,"y":76},{"s":"d27","t":7,"y":73},{"s":"d27","t":8,"y":71},{"s":"d27","t":9,"y":69},{"s":"d27","t":10,"y":67},{"s":"d27","t":11,"y":65},{"s":"d27","t":12,"y":63},{"s":"d27","t":13,"y":61},{"s":"d27","t":14,"y":59},{"s":"d27","t":15,"y":57},{"s":"d27","t":16,"y":55},{"s":"d27","t":17,"y":52},{"s":"d27","t":18,"y":48},{"s":"d27","t":19,"y":44},
{"s":"d28","t":0,"y":99},{"s":"d28","t":1,"y":97},{"s":"d28","t":2,"y":95},{"s":"d28","t":3,"y":93},{"s":"d28","t":4,"y":91},{"s":"d28","t":5,"y":89},{"s":"d28","t":6,"y":87},{"s":"d28","t":7,"y":85},{"s":"d28","t":8,"y":83},{"s":"d28","t":9,"y":81},{"s":"d28","t":10,"y":79},{"s":"d28","t":11,"y":77},{"s":"d28","t":12,"y":75},{"s":"d28","t":13,"y":73},{"s":"d28","t":14,"y":71},{"s":"d28","t":15,"y":69},{"s":"d28","t":16,"y":66},{"s":"d28","t":17,"y":63},{"s":"d28","t":18,"y":58},{"s":"d28","t":19,"y":52},
{"s":"d29","t":0,"y":98},{"s":"d29","t":1,"y":96},{"s":"d29","t":2,"y":94},{"s":"d29","t":3,"y":92},{"s":"d29","t":4,"y":90},{"s":"d29","t":5,"y":88},{"s":"d29","t":6,"y":86},{"s":"d29","t":7,"y":84},{"s":"d29","t":8,"y":82},{"s":"d29","t":9,"y":80},{"s":"d29","t":10,"y":78},{"s":"d29","t":11,"y":76},{"s":"d29","t":12,"y":74},{"s":"d29","t":13,"y":72},{"s":"d29","t":14,"y":70},{"s":"d29","t":15,"y":67},{"s":"d29","t":16,"y":64},{"s":"d29","t":17,"y":61},{"s":"d29","t":18,"y":58},{"s":"d29","t":19,"y":55},
{"s":"d30","t":0,"y":96},{"s":"d30","t":1,"y":92},{"s":"d30","t":2,"y":87},{"s":"d30","t":3,"y":83},{"s":"d30","t":4,"y":80},{"s":"d30","t":5,"y":77},{"s":"d30","t":6,"y":75},{"s":"d30","t":7,"y":73},{"s":"d30","t":8,"y":71},{"s":"d30","t":9,"y":69},{"s":"d30","t":10,"y":67},{"s":"d30","t":11,"y":65},{"s":"d30","t":12,"y":63},{"s":"d30","t":13,"y":61},{"s":"d30","t":14,"y":59},{"s":"d30","t":15,"y":57},{"s":"d30","t":16,"y":55},{"s":"d30","t":17,"y":53},{"s":"d30","t":18,"y":50},{"s":"d30","t":19,"y":46},
{"s":"d31","t":0,"y":98},{"s":"d31","t":1,"y":96},{"s":"d31","t":2,"y":93},{"s":"d31","t":3,"y":91},{"s":"d31","t":4,"y":89},{"s":"d31","t":5,"y":87},{"s":"d31","t":6,"y":85},{"s":"d31","t":7,"y":83},{"s":"d31","t":8,"y":81},{"s":"d31","t":9,"y":79},{"s":"d31","t":10,"y":77},{"s":"d31","t":11,"y":75},{"s":"d31","t":12,"y":73},{"s":"d31","t":13,"y":71},{"s":"d31","t":14,"y":69},{"s":"d31","t":15,"y":67},{"s":"d31","t":16,"y":64},{"s":"d31","t":17,"y":61},{"s":"d31","t":18,"y":55},{"s":"d31","t":19,"y":48},
{"s":"d32","t":0,"y":99},{"s":"d32","t":1,"y":98},{"s":"d32","t":2,"y":97},{"s":"d32","t":3,"y":95},{"s":"d32","t":4,"y":94},{"s":"d32","t":5,"y":93},{"s":"d32","t":6,"y":92},{"s":"d32","t":7,"y":91},{"s":"d32","t":8,"y":90},{"s":"d32","t":9,"y":89},{"s":"d32","t":10,"y":88},{"s":"d32","t":11,"y":87},{"s":"d32","t":12,"y":86},{"s":"d32","t":13,"y":85},{"s":"d32","t":14,"y":84},{"s":"d32","t":15,"y":83},{"s":"d32","t":16,"y":82},{"s":"d32","t":17,"y":81},{"s":"d32","t":18,"y":80},{"s":"d32","t":19,"y":78},
{"s":"d33","t":0,"y":99},{"s":"d33","t":1,"y":98},{"s":"d33","t":2,"y":97},{"s":"d33","t":3,"y":96},{"s":"d33","t":4,"y":95},{"s":"d33","t":5,"y":94},{"s":"d33","t":6,"y":93},{"s":"d33","t":7,"y":92},{"s":"d33","t":8,"y":91},{"s":"d33","t":9,"y":90},{"s":"d33","t":10,"y":89},{"s":"d33","t":11,"y":88},{"s":"d33","t":12,"y":87},{"s":"d33","t":13,"y":86},{"s":"d33","t":14,"y":84},{"s":"d33","t":15,"y":82},{"s":"d33","t":16,"y":80},{"s":"d33","t":17,"y":78},{"s":"d33","t":18,"y":76},{"s":"d33","t":19,"y":72},
{"s":"d34","t":0,"y":97},{"s":"d34","t":1,"y":95},{"s":"d34","t":2,"y":92},{"s":"d34","t":3,"y":89},{"s":"d34","t":4,"y":86},{"s":"d34","t":5,"y":83},{"s":"d34","t":6,"y":80},{"s":"d34","t":7,"y":78},{"s":"d34","t":8,"y":76},{"s":"d34","t":9,"y":74},{"s":"d34","t":10,"y":72},{"s":"d34","t":11,"y":70},{"s":"d34","t":12,"y":68},{"s":"d34","t":13,"y":66},{"s":"d34","t":14,"y":64},{"s":"d34","t":15,"y":62},{"s":"d34","t":16,"y":60},{"s":"d34","t":17,"y":57},{"s":"d34","t":18,"y":54},{"s":"d34","t":19,"y":50},
{"s":"d35","t":0,"y":98},{"s":"d35","t":1,"y":96},{"s":"d35","t":2,"y":93},{"s":"d35","t":3,"y":90},{"s":"d35","t":4,"y":87},{"s":"d35","t":5,"y":85},{"s":"d35","t":6,"y":83},{"s":"d35","t":7,"y":81},{"s":"d35","t":8,"y":79},{"s":"d35","t":9,"y":77},{"s":"d35","t":10,"y":75},{"s":"d35","t":11,"y":73},{"s":"d35","t":12,"y":71},{"s":"d35","t":13,"y":69},{"s":"d35","t":14,"y":67},{"s":"d35","t":15,"y":65},{"s":"d35","t":16,"y":62},{"s":"d35","t":17,"y":59},{"s":"d35","t":18,"y":56},{"s":"d35","t":19,"y":53},
{"s":"d36","t":0,"y":99},{"s":"d36","t":1,"y":97},{"s":"d36","t":2,"y":95},{"s":"d36","t":3,"y":93},{"s":"d36","t":4,"y":91},{"s":"d36","t":5,"y":89},{"s":"d36","t":6,"y":87},{"s":"d36","t":7,"y":85},{"s":"d36","t":8,"y":83},{"s":"d36","t":9,"y":81},{"s":"d36","t":10,"y":79},{"s":"d36","t":11,"y":77},{"s":"d36","t":12,"y":75},{"s":"d36","t":13,"y":74},{"s":"d36","t":14,"y":72},{"s":"d36","t":15,"y":71},{"s":"d36","t":16,"y":70},{"s":"d36","t":17,"y":68},{"s":"d36","t":18,"y":66},{"s":"d36","t":19,"y":63},
{"s":"d37","t":0,"y":99},{"s":"d37","t":1,"y":99},{"s":"d37","t":2,"y":98},{"s":"d37","t":3,"y":98},{"s":"d37","t":4,"y":97},{"s":"d37","t":5,"y":97},{"s":"d37","t":6,"y":96},{"s":"d37","t":7,"y":95},{"s":"d37","t":8,"y":94},{"s":"d37","t":9,"y":93},{"s":"d37","t":10,"y":92},{"s":"d37","t":11,"y":91},{"s":"d37","t":12,"y":90},{"s":"d37","t":13,"y":88},{"s":"d37","t":14,"y":86},{"s":"d37","t":15,"y":84},{"s":"d37","t":16,"y":82},{"s":"d37","t":17,"y":80},{"s":"d37","t":18,"y":78},{"s":"d37","t":19,"y":76},
{"s":"d38","t":0,"y":97},{"s":"d38","t":1,"y":94},{"s":"d38","t":2,"y":90},{"s":"d38","t":3,"y":86},{"s":"d38","t":4,"y":83},{"s":"d38","t":5,"y":80},{"s":"d38","t":6,"y":77},{"s":"d38","t":7,"y":74},{"s":"d38","t":8,"y":72},{"s":"d38","t":9,"y":70},{"s":"d38","t":10,"y":68},{"s":"d38","t":11,"y":66},{"s":"d38","t":12,"y":64},{"s":"d38","t":13,"y":62},{"s":"d38","t":14,"y":60},{"s":"d38","t":15,"y":58},{"s":"d38","t":16,"y":55},{"s":"d38","t":17,"y":52},{"s":"d38","t":18,"y":48},{"s":"d38","t":19,"y":42},
{"s":"d39","t":0,"y":98},{"s":"d39","t":1,"y":97},{"s":"d39","t":2,"y":95},{"s":"d39","t":3,"y":93},{"s":"d39","t":4,"y":91},{"s":"d39","t":5,"y":89},{"s":"d39","t":6,"y":87},{"s":"d39","t":7,"y":85},{"s":"d39","t":8,"y":83},{"s":"d39","t":9,"y":81},{"s":"d39","t":10,"y":80},{"s":"d39","t":11,"y":78},{"s":"d39","t":12,"y":76},{"s":"d39","t":13,"y":74},{"s":"d39","t":14,"y":71},{"s":"d39","t":15,"y":68},{"s":"d39","t":16,"y":65},{"s":"d39","t":17,"y":62},{"s":"d39","t":18,"y":58},{"s":"d39","t":19,"y":54},
{"s":"d40","t":0,"y":97},{"s":"d40","t":1,"y":94},{"s":"d40","t":2,"y":90},{"s":"d40","t":3,"y":86},{"s":"d40","t":4,"y":82},{"s":"d40","t":5,"y":78},{"s":"d40","t":6,"y":75},{"s":"d40","t":7,"y":72},{"s":"d40","t":8,"y":69},{"s":"d40","t":9,"y":66},{"s":"d40","t":10,"y":63},{"s":"d40","t":11,"y":61},{"s":"d40","t":12,"y":59},{"s":"d40","t":13,"y":57},{"s":"d40","t":14,"y":55},{"s":"d40","t":15,"y":53},{"s":"d40","t":16,"y":51},{"s":"d40","t":17,"y":49},{"s":"d40","t":18,"y":46},{"s":"d40","t":19,"y":40},
{"s":"e1","t":0,"y":99},{"s":"e1","t":1,"y":98},{"s":"e1","t":2,"y":96},{"s":"e1","t":3,"y":95},{"s":"e1","t":4,"y":93},{"s":"e1","t":5,"y":92},{"s":"e1","t":6,"y":90},{"s":"e1","t":7,"y":89},{"s":"e1","t":8,"y":88},{"s":"e1","t":9,"y":87},{"s":"e1","t":10,"y":86},{"s":"e1","t":11,"y":84},{"s":"e1","t":12,"y":83},{"s":"e1","t":13,"y":81},{"s":"e1","t":14,"y":79},{"s":"e1","t":15,"y":77},{"s":"e1","t":16,"y":74},{"s":"e1","t":17,"y":71},{"s":"e1","t":18,"y":67},{"s":"e1","t":19,"y":62},
{"s":"e2","t":0,"y":98},{"s":"e2","t":1,"y":97},{"s":"e2","t":2,"y":95},{"s":"e2","t":3,"y":93},{"s":"e2","t":4,"y":92},{"s":"e2","t":5,"y":90},{"s":"e2","t":6,"y":89},{"s":"e2","t":7,"y":88},{"s":"e2","t":8,"y":86},{"s":"e2","t":9,"y":85},{"s":"e2","t":10,"y":84},{"s":"e2","t":11,"y":83},{"s":"e2","t":12,"y":81},{"s":"e2","t":13,"y":80},{"s":"e2","t":14,"y":78},{"s":"e2","t":15,"y":76},{"s":"e2","t":16,"y":74},{"s":"e2","t":17,"y":72},{"s":"e2","t":18,"y":69},{"s":"e2","t":19,"y":65},
{"s":"e3","t":0,"y":99},{"s":"e3","t":1,"y":98},{"s":"e3","t":2,"y":97},{"s":"e3","t":3,"y":96},{"s":"e3","t":4,"y":95},{"s":"e3","t":5,"y":94},{"s":"e3","t":6,"y":92},{"s":"e3","t":7,"y":91},{"s":"e3","t":8,"y":90},{"s":"e3","t":9,"y":88},{"s":"e3","t":10,"y":87},{"s":"e3","t":11,"y":85},{"s":"e3","t":12,"y":84},{"s":"e3","t":13,"y":82},{"s":"e3","t":14,"y":80},{"s":"e3","t":15,"y":78},{"s":"e3","t":16,"y":76},{"s":"e3","t":17,"y":73},{"s":"e3","t":18,"y":70},{"s":"e3","t":19,"y":65},
{"s":"e4","t":0,"y":98},{"s":"e4","t":1,"y":96},{"s":"e4","t":2,"y":94},{"s":"e4","t":3,"y":92},{"s":"e4","t":4,"y":91},{"s":"e4","t":5,"y":89},{"s":"e4","t":6,"y":88},{"s":"e4","t":7,"y":87},{"s":"e4","t":8,"y":86},{"s":"e4","t":9,"y":85},{"s":"e4","t":10,"y":84},{"s":"e4","t":11,"y":82},{"s":"e4","t":12,"y":81},{"s":"e4","t":13,"y":80},{"s":"e4","t":14,"y":78},{"s":"e4","t":15,"y":76},{"s":"e4","t":16,"y":74},{"s":"e4","t":17,"y":71},{"s":"e4","t":18,"y":68},{"s":"e4","t":19,"y":64},
{"s":"e5","t":0,"y":99},{"s":"e5","t":1,"y":98},{"s":"e5","t":2,"y":97},{"s":"e5","t":3,"y":95},{"s":"e5","t":4,"y":94},{"s":"e5","t":5,"y":93},{"s":"e5","t":6,"y":92},{"s":"e5","t":7,"y":91},{"s":"e5","t":8,"y":90},{"s":"e5","t":9,"y":89},{"s":"e5","t":10,"y":87},{"s":"e5","t":11,"y":86},{"s":"e5","t":12,"y":84},{"s":"e5","t":13,"y":83},{"s":"e5","t":14,"y":81},{"s":"e5","t":15,"y":79},{"s":"e5","t":16,"y":77},{"s":"e5","t":17,"y":74},{"s":"e5","t":18,"y":71},{"s":"e5","t":19,"y":66},
{"s":"e6","t":0,"y":98},{"s":"e6","t":1,"y":96},{"s":"e6","t":2,"y":94},{"s":"e6","t":3,"y":93},{"s":"e6","t":4,"y":91},{"s":"e6","t":5,"y":90},{"s":"e6","t":6,"y":88},{"s":"e6","t":7,"y":87},{"s":"e6","t":8,"y":85},{"s":"e6","t":9,"y":84},{"s":"e6","t":10,"y":82},{"s":"e6","t":11,"y":80},{"s":"e6","t":12,"y":78},{"s":"e6","t":13,"y":76},{"s":"e6","t":14,"y":74},{"s":"e6","t":15,"y":72},{"s":"e6","t":16,"y":70},{"s":"e6","t":17,"y":67},{"s":"e6","t":18,"y":64},{"s":"e6","t":19,"y":58},
{"s":"e7","t":0,"y":99},{"s":"e7","t":1,"y":97},{"s":"e7","t":2,"y":95},{"s":"e7","t":3,"y":93},{"s":"e7","t":4,"y":91},{"s":"e7","t":5,"y":89},{"s":"e7","t":6,"y":87},{"s":"e7","t":7,"y":85},{"s":"e7","t":8,"y":84},{"s":"e7","t":9,"y":82},{"s":"e7","t":10,"y":80},{"s":"e7","t":11,"y":78},{"s":"e7","t":12,"y":77},{"s":"e7","t":13,"y":75},{"s":"e7","t":14,"y":73},{"s":"e7","t":15,"y":71},{"s":"e7","t":16,"y":68},{"s":"e7","t":17,"y":65},{"s":"e7","t":18,"y":61},{"s":"e7","t":19,"y":55},
{"s":"e8","t":0,"y":97},{"s":"e8","t":1,"y":95},{"s":"e8","t":2,"y":92},{"s":"e8","t":3,"y":90},{"s":"e8","t":4,"y":88},{"s":"e8","t":5,"y":87},{"s":"e8","t":6,"y":86},{"s":"e8","t":7,"y":85},{"s":"e8","t":8,"y":84},{"s":"e8","t":9,"y":83},{"s":"e8","t":10,"y":82},{"s":"e8","t":11,"y":81},{"s":"e8","t":12,"y":80},{"s":"e8","t":13,"y":79},{"s":"e8","t":14,"y":78},{"s":"e8","t":15,"y":77},{"s":"e8","t":16,"y":75},{"s":"e8","t":17,"y":73},{"s":"e8","t":18,"y":70},{"s":"e8","t":19,"y":66},
{"s":"e9","t":0,"y":99},{"s":"e9","t":1,"y":99},{"s":"e9","t":2,"y":98},{"s":"e9","t":3,"y":97},{"s":"e9","t":4,"y":96},{"s":"e9","t":5,"y":95},{"s":"e9","t":6,"y":94},{"s":"e9","t":7,"y":93},{"s":"e9","t":8,"y":92},{"s":"e9","t":9,"y":91},{"s":"e9","t":10,"y":90},{"s":"e9","t":11,"y":89},{"s":"e9","t":12,"y":88},{"s":"e9","t":13,"y":87},{"s":"e9","t":14,"y":86},{"s":"e9","t":15,"y":85},{"s":"e9","t":16,"y":84},{"s":"e9","t":17,"y":82},{"s":"e9","t":18,"y":80},{"s":"e9","t":19,"y":77},
{"s":"e10","t":0,"y":98},{"s":"e10","t":1,"y":96},{"s":"e10","t":2,"y":93},{"s":"e10","t":3,"y":90},{"s":"e10","t":4,"y":88},{"s":"e10","t":5,"y":86},{"s":"e10","t":6,"y":85},{"s":"e10","t":7,"y":84},{"s":"e10","t":8,"y":83},{"s":"e10","t":9,"y":81},{"s":"e10","t":10,"y":80},{"s":"e10","t":11,"y":79},{"s":"e10","t":12,"y":77},{"s":"e10","t":13,"y":76},{"s":"e10","t":14,"y":74},{"s":"e10","t":15,"y":73},{"s":"e10","t":16,"y":71},{"s":"e10","t":17,"y":69},{"s":"e10","t":18,"y":66},{"s":"e10","t":19,"y":61},
{"s":"e11","t":0,"y":99},{"s":"e11","t":1,"y":97},{"s":"e11","t":2,"y":95},{"s":"e11","t":3,"y":93},{"s":"e11","t":4,"y":92},{"s":"e11","t":5,"y":91},{"s":"e11","t":6,"y":90},{"s":"e11","t":7,"y":88},{"s":"e11","t":8,"y":87},{"s":"e11","t":9,"y":86},{"s":"e11","t":10,"y":85},{"s":"e11","t":11,"y":84},{"s":"e11","t":12,"y":83},{"s":"e11","t":13,"y":82},{"s":"e11","t":14,"y":80},{"s":"e11","t":15,"y":79},{"s":"e11","t":16,"y":77},{"s":"e11","t":17,"y":75},{"s":"e11","t":18,"y":72},{"s":"e11","t":19,"y":69},
{"s":"e12","t":0,"y":97},{"s":"e12","t":1,"y":94},{"s":"e12","t":2,"y":91},{"s":"e12","t":3,"y":89},{"s":"e12","t":4,"y":87},{"s":"e12","t":5,"y":85},{"s":"e12","t":6,"y":84},{"s":"e12","t":7,"y":83},{"s":"e12","t":8,"y":82},{"s":"e12","t":9,"y":81},{"s":"e12","t":10,"y":80},{"s":"e12","t":11,"y":79},{"s":"e12","t":12,"y":78},{"s":"e12","t":13,"y":76},{"s":"e12","t":14,"y":75},{"s":"e12","t":15,"y":73},{"s":"e12","t":16,"y":71},{"s":"e12","t":17,"y":68},{"s":"e12","t":18,"y":64},{"s":"e12","t":19,"y":59},
{"s":"e13","t":0,"y":99},{"s":"e13","t":1,"y":98},{"s":"e13","t":2,"y":96},{"s":"e13","t":3,"y":94},{"s":"e13","t":4,"y":92},{"s":"e13","t":5,"y":90},{"s":"e13","t":6,"y":88},{"s":"e13","t":7,"y":86},{"s":"e13","t":8,"y":85},{"s":"e13","t":9,"y":84},{"s":"e13","t":10,"y":83},{"s":"e13","t":11,"y":82},{"s":"e13","t":12,"y":81},{"s":"e13","t":13,"y":80},{"s":"e13","t":14,"y":79},{"s":"e13","t":15,"y":78},{"s":"e13","t":16,"y":77},{"s":"e13","t":17,"y":75},{"s":"e13","t":18,"y":73},{"s":"e13","t":19,"y":70},
{"s":"e14","t":0,"y":98},{"s":"e14","t":1,"y":97},{"s":"e14","t":2,"y":96},{"s":"e14","t":3,"y":95},{"s":"e14","t":4,"y":94},{"s":"e14","t":5,"y":93},{"s":"e14","t":6,"y":92},{"s":"e14","t":7,"y":90},{"s":"e14","t":8,"y":89},{"s":"e14","t":9,"y":88},{"s":"e14","t":10,"y":86},{"s":"e14","t":11,"y":85},{"s":"e14","t":12,"y":83},{"s":"e14","t":13,"y":82},{"s":"e14","t":14,"y":80},{"s":"e14","t":15,"y":78},{"s":"e14","t":16,"y":75},{"s":"e14","t":17,"y":72},{"s":"e14","t":18,"y":68},{"s":"e14","t":19,"y":63},
{"s":"e15","t":0,"y":98},{"s":"e15","t":1,"y":96},{"s":"e15","t":2,"y":94},{"s":"e15","t":3,"y":92},{"s":"e15","t":4,"y":90},{"s":"e15","t":5,"y":88},{"s":"e15","t":6,"y":86},{"s":"e15","t":7,"y":85},{"s":"e15","t":8,"y":83},{"s":"e15","t":9,"y":82},{"s":"e15","t":10,"y":80},{"s":"e15","t":11,"y":79},{"s":"e15","t":12,"y":78},{"s":"e15","t":13,"y":76},{"s":"e15","t":14,"y":75},{"s":"e15","t":15,"y":73},{"s":"e15","t":16,"y":71},{"s":"e15","t":17,"y":69},{"s":"e15","t":18,"y":66},{"s":"e15","t":19,"y":62},
{"s":"e16","t":0,"y":97},{"s":"e16","t":1,"y":95},{"s":"e16","t":2,"y":93},{"s":"e16","t":3,"y":91},{"s":"e16","t":4,"y":89},{"s":"e16","t":5,"y":87},{"s":"e16","t":6,"y":86},{"s":"e16","t":7,"y":84},{"s":"e16","t":8,"y":83},{"s":"e16","t":9,"y":82},{"s":"e16","t":10,"y":81},{"s":"e16","t":11,"y":79},{"s":"e16","t":12,"y":78},{"s":"e16","t":13,"y":77},{"s":"e16","t":14,"y":75},{"s":"e16","t":15,"y":74},{"s":"e16","t":16,"y":72},{"s":"e16","t":17,"y":70},{"s":"e16","t":18,"y":68},{"s":"e16","t":19,"y":64},
{"s":"e17","t":0,"y":99},{"s":"e17","t":1,"y":98},{"s":"e17","t":2,"y":98},{"s":"e17","t":3,"y":97},{"s":"e17","t":4,"y":96},{"s":"e17","t":5,"y":95},{"s":"e17","t":6,"y":94},{"s":"e17","t":7,"y":93},{"s":"e17","t":8,"y":92},{"s":"e17","t":9,"y":91},{"s":"e17","t":10,"y":90},{"s":"e17","t":11,"y":89},{"s":"e17","t":12,"y":88},{"s":"e17","t":13,"y":87},{"s":"e17","t":14,"y":86},{"s":"e17","t":15,"y":84},{"s":"e17","t":16,"y":83},{"s":"e17","t":17,"y":81},{"s":"e17","t":18,"y":79},{"s":"e17","t":19,"y":76},
{"s":"e18","t":0,"y":98},{"s":"e18","t":1,"y":95},{"s":"e18","t":2,"y":92},{"s":"e18","t":3,"y":89},{"s":"e18","t":4,"y":87},{"s":"e18","t":5,"y":85},{"s":"e18","t":6,"y":83},{"s":"e18","t":7,"y":82},{"s":"e18","t":8,"y":80},{"s":"e18","t":9,"y":79},{"s":"e18","t":10,"y":78},{"s":"e18","t":11,"y":76},{"s":"e18","t":12,"y":75},{"s":"e18","t":13,"y":74},{"s":"e18","t":14,"y":73},{"s":"e18","t":15,"y":72},{"s":"e18","t":16,"y":71},{"s":"e18","t":17,"y":69},{"s":"e18","t":18,"y":67},{"s":"e18","t":19,"y":65},
{"s":"e19","t":0,"y":99},{"s":"e19","t":1,"y":97},{"s":"e19","t":2,"y":94},{"s":"e19","t":3,"y":92},{"s":"e19","t":4,"y":90},{"s":"e19","t":5,"y":88},{"s":"e19","t":6,"y":86},{"s":"e19","t":7,"y":84},{"s":"e19","t":8,"y":82},{"s":"e19","t":9,"y":81},{"s":"e19","t":10,"y":79},{"s":"e19","t":11,"y":78},{"s":"e19","t":12,"y":76},{"s":"e19","t":13,"y":75},{"s":"e19","t":14,"y":73},{"s":"e19","t":15,"y":71},{"s":"e19","t":16,"y":69},{"s":"e19","t":17,"y":67},{"s":"e19","t":18,"y":64},{"s":"e19","t":19,"y":60},
{"s":"e20","t":0,"y":98},{"s":"e20","t":1,"y":97},{"s":"e20","t":2,"y":96},{"s":"e20","t":3,"y":95},{"s":"e20","t":4,"y":93},{"s":"e20","t":5,"y":92},{"s":"e20","t":6,"y":91},{"s":"e20","t":7,"y":89},{"s":"e20","t":8,"y":88},{"s":"e20","t":9,"y":86},{"s":"e20","t":10,"y":85},{"s":"e20","t":11,"y":83},{"s":"e20","t":12,"y":82},{"s":"e20","t":13,"y":80},{"s":"e20","t":14,"y":78},{"s":"e20","t":15,"y":76},{"s":"e20","t":16,"y":73},{"s":"e20","t":17,"y":70},{"s":"e20","t":18,"y":66},{"s":"e20","t":19,"y":61}
]},
"encoding":{
"x":{"field":"t","type":"quantitative","scale":{"domain":[-0.12,19.075],"nice":false,"zero":false},
"axis":{"values":[-0.12,9.4775,19.075],"title":null,"grid":false,"domain":true,"domainColor":"#d8d8d8","domainWidth":4,"ticks":true,"tickColor":"#b5b5b5","tickWidth":2,"tickSize":37,"labelFont":"Lato","labelFontWeight":300,"labelFontSize":76,"labelColor":"#8a8a8a","labelPadding":24,"labelLineHeight":90,"labelBaseline":"top","labelLimit":0,"labelOverlap":false,"labelFlush":true,"labelExpr":"datum.value < 0 ? ['BEGINNING','OF VIDEO'] : (datum.value > 19 ? ['END','OF VIDEO'] : ['50%','VIEWED'])"}},
"y":{"field":"y","type":"quantitative","scale":{"domain":[0,100],"nice":false},
"axis":{"values":[0,10,20,30,40,50,60,70,80,90,100],"grid":false,"domain":false,"ticks":true,"tickSize":21,"tickColor":"#cccccc","tickWidth":2,"offset":5,"labelPadding":28,"labelLimit":0,"labelFont":"Lato","labelFontWeight":300,"labelColor":"#a5a5a5","labelFontSize":{"condition":{"test":"datum.value==0||datum.value==100","value":68},"value":56},"labelExpr":"datum.value==100?'100%':(datum.value==0?'0%':(datum.value%20==0?datum.label:''))","labelOverlap":false,"title":"AUDIENCE ENGAGEMENT","titleFont":"DejaVu Sans","titleFontWeight":"normal","titleFontSize":82,"titleLimit":0,"titleColor":"#707070","titleAngle":270,"titleX":-258,"titleY":879,"titleAlign":"center","titleBaseline":"middle"}}},
"layer":[
{"data":{"name":"lines"},"transform":[{"filter":"datum.s!='avg'"},{"lookup":"s","from":{"data":{"name":"colors"},"key":"s","fields":["c"]}}],
"mark":{"type":"line","strokeWidth":3.5,"opacity":0.5,"strokeJoin":"round"},
"encoding":{
"detail":{"field":"s","type":"nominal"},
"color":{"field":"c","type":"nominal","legend":null,"scale":{"domain":["b","lb","g","y","t","p","v"],"range":["#8f9be0","#b3c3ea","#9fcf98","#f3e47f","#e0b48e","#cdb4dc","#c6cce8"]}}}},
{"data":{"name":"lines"},"transform":[{"filter":"datum.s=='avg'"}],
"mark":{"type":"line","color":"#f39200","strokeWidth":15,"strokeCap":"round","strokeJoin":"round"},
"encoding":{}},
{"data":{"name":"lines"},"transform":[{"filter":"datum.s=='avg' && datum.t==19"}],
"mark":{"type":"text","text":"<1 min","align":"left","baseline":"middle","dx":59,"dy":31,"font":"Lato","fontSize":64,"color":"#f5a12b"},
"encoding":{}}
]}
